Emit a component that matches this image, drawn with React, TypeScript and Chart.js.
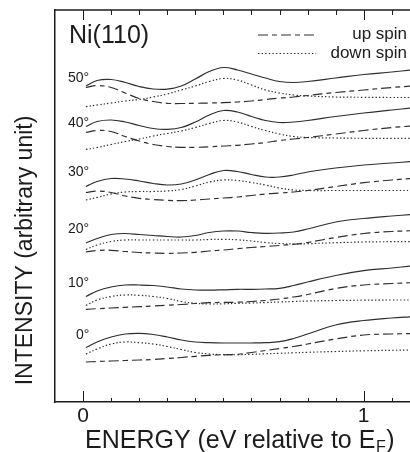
import React, { useEffect, useRef } from "react";
import { Chart, registerables } from "chart.js";

Chart.register(...registerables);

// Energy grid (eV relative to E_F)
const ENERGY = [0.01, 0.05, 0.1, 0.15, 0.2, 0.25, 0.3, 0.35, 0.4, 0.45, 0.5, 0.55, 0.6, 0.65, 0.7, 0.75, 0.8, 0.9, 1.0, 1.1, 1.17];

const ANGLES = ["50°", "40°", "30°", "20°", "10°", "0°"];

// Total intensity (solid), arbitrary units, offset per angle
const TOTAL_50 = [316, 321.5, 322.5, 319.5, 315.5, 313, 312.8, 316, 323, 330.5, 334.5, 332, 328, 324, 320.5, 319.5, 320.5, 324, 327.5, 330, 332];
const TOTAL_40 = [275.5, 280.5, 282, 280, 276.5, 273.5, 272.7, 274.5, 280, 287, 291.5, 290, 285.5, 281.5, 279.5, 280, 281.5, 285.5, 289, 292, 294];
const TOTAL_30 = [215.5, 220.5, 223.5, 223, 221, 218.5, 217, 218, 222, 227.5, 231.5, 230.5, 227.5, 225, 225, 227, 230, 234, 237, 239, 240.5];
const TOTAL_20 = [159, 163.5, 167.5, 168.5, 167.5, 166.5, 165.5, 165, 166.5, 169.5, 171, 171, 169.5, 168.7, 169, 170, 173, 180, 183.5, 186, 187.5];
const TOTAL_10 = [105.5, 111, 115, 117, 117, 116.5, 115, 113, 112, 111.8, 112.2, 112.7, 112.7, 113, 113.7, 116.5, 120, 126.5, 131.3, 134, 136];
const TOTAL_0 = [54.5, 60, 65, 68, 68.7, 67.5, 65, 62, 60, 59.3, 59, 59, 59, 59.3, 60.3, 63.5, 68, 77, 81.5, 84, 85.3];

// Up spin (dashed)
const UP_50 = [314.5, 316.5, 314.5, 309, 303.5, 300.5, 298.7, 298.5, 298.7, 299, 299.3, 300, 301, 302.5, 304, 305, 306.5, 309.5, 312, 314.5, 316];
const UP_40 = [269.5, 271.5, 270.5, 265.5, 261, 257.5, 255.5, 254.7, 254.7, 255.2, 256, 256.7, 258, 259.5, 261.5, 263, 264.5, 268, 271.5, 274.5, 276];
const UP_30 = [209.5, 211, 209.5, 206, 203.7, 202.5, 201.7, 201.3, 202, 203, 204, 205, 206.5, 208, 209, 210, 211.5, 215.5, 219.3, 222, 223.5];
const UP_20 = [150, 151.5, 151.7, 150.5, 149.5, 149, 148.7, 149, 149.7, 151, 152, 153.3, 154.5, 155.5, 156.5, 157.7, 159.5, 164.5, 168.5, 170.5, 171.3];
const UP_10 = [92.7, 93.3, 94, 94.7, 95.3, 96, 96.7, 97.5, 98.5, 99.3, 99.6, 99.8, 100.5, 101.5, 103, 105, 107.5, 113.5, 117, 118.5, 119.3];
const UP_0 = [40, 40.5, 41, 41.5, 42, 42.5, 43.5, 44.5, 45.7, 46.7, 47.2, 47.7, 49.5, 51.5, 53.5, 55.5, 58, 63, 67, 68, 68.5];

// Down spin (dotted)
const DOWN_50 = [295.3, 297, 299, 301, 302.5, 305, 308, 312, 316, 320.5, 323.5, 322, 317, 312, 309, 307, 306, 305, 304.7, 304.5, 304.5];
const DOWN_40 = [252.7, 254.5, 257.5, 260.5, 263, 266, 268.5, 271, 274.5, 278.5, 281.5, 280, 275.5, 271.5, 268, 265.5, 264.5, 264, 263.7, 263.7, 263.7];
const DOWN_30 = [202, 204.5, 208, 210, 210.5, 210.5, 211, 212.5, 216, 220, 222, 221.5, 219.5, 217, 214, 212, 211.5, 211.5, 211.5, 211.5, 211.5];
const DOWN_20 = [152.5, 157, 160.5, 162, 162, 162, 162, 162, 162, 162.5, 162.7, 162.2, 161, 159.5, 158.5, 158, 158.3, 159.3, 160, 160.3, 160.3];
const DOWN_10 = [96.5, 102, 105.5, 107, 106.7, 105.5, 103.5, 100.5, 98.7, 98, 98.2, 98.7, 99, 99.5, 100, 100.5, 101, 101.5, 101.8, 102, 102];
const DOWN_0 = [48, 53, 58, 60, 59.3, 58, 55.5, 52.5, 49.5, 48, 47.3, 47.3, 47.7, 48.2, 48.7, 49.2, 49.7, 50.5, 51.2, 51.7, 52];

// Angle label anchors in data space (energy, intensity)
const LABEL_E = [-0.054, -0.054, -0.054, -0.054, -0.054, -0.025];
const LABEL_I = [320.5, 275, 226, 169, 115, 63];

const X_TICK_LABELS = [0, 1];

const TOTALS = [TOTAL_50, TOTAL_40, TOTAL_30, TOTAL_20, TOTAL_10, TOTAL_0];
const UPS = [UP_50, UP_40, UP_30, UP_20, UP_10, UP_0];
const DOWNS = [DOWN_50, DOWN_40, DOWN_30, DOWN_20, DOWN_10, DOWN_0];

const FONT = '"Liberation Sans", Arial, Helvetica, sans-serif';
const INK = "#1c1c1c";
const LINE = "#2e2e2e";
const DASH = [10, 4, 5, 4];
const DOT = [1.4, 2.2];

const toPts = (ys: number[]) => ys.map((v, i) => ({ x: ENERGY[i], y: v }));

const decor = {
  id: "decor",
  afterDraw(chart: any) {
    const { ctx, chartArea: a, scales } = chart;
    const x = scales.x;
    const y = scales.y;
    ctx.save();
    ctx.strokeStyle = INK;
    ctx.fillStyle = INK;

    // top frame line
    ctx.lineWidth = 1.4;
    ctx.beginPath();
    ctx.moveTo(a.left, a.top);
    ctx.lineTo(a.right, a.top);
    ctx.stroke();

    // inward tick marks, bottom and top
    ctx.lineWidth = 1;
    for (let i = 0; i <= 11; i++) {
      const v = i / 10;
      const px = Math.round(x.getPixelForValue(v)) + 0.5;
      const major = i % 10 === 0;
      ctx.beginPath();
      ctx.moveTo(px, a.bottom);
      ctx.lineTo(px, a.bottom - (major ? 11 : 4));
      ctx.moveTo(px, a.top);
      ctx.lineTo(px, a.top + (major ? 10 : 5));
      ctx.stroke();
    }

    // sample label
    ctx.textAlign = "left";
    ctx.textBaseline = "alphabetic";
    ctx.font = `25px ${FONT}`;
    ctx.fillText("Ni(110)", 69, 43);

    // angle labels
    ctx.font = `14px ${FONT}`;
    ANGLES.forEach((t, i) => {
      ctx.fillText(t, x.getPixelForValue(LABEL_E[i]), y.getPixelForValue(LABEL_I[i]));
    });

    // legend
    ctx.font = `17px ${FONT}`;
    ctx.textAlign = "right";
    ctx.fillText("up spin", 407, 39);
    ctx.fillText("down spin", 407, 58);
    ctx.lineWidth = 1.2;
    ctx.strokeStyle = LINE;
    ctx.setLineDash(DASH);
    ctx.beginPath();
    ctx.moveTo(258, 35);
    ctx.lineTo(316, 35);
    ctx.stroke();
    ctx.setLineDash(DOT);
    ctx.beginPath();
    ctx.moveTo(258, 53.5);
    ctx.lineTo(316, 53.5);
    ctx.stroke();
    ctx.setLineDash([]);

    // x-axis title with subscript
    ctx.fillStyle = INK;
    ctx.textAlign = "left";
    const main = "ENERGY (eV relative to E";
    let cx = 85;
    const by = 448;
    ctx.font = `25px ${FONT}`;
    ctx.fillText(main, cx, by);
    cx += ctx.measureText(main).width;
    ctx.font = `16px ${FONT}`;
    ctx.fillText("F", cx + 0.5, by + 4);
    cx += ctx.measureText("F").width + 1;
    ctx.font = `25px ${FONT}`;
    ctx.fillText(")", cx, by);

    // y-axis title
    ctx.save();
    ctx.translate(31.5, 250.5);
    ctx.rotate(-Math.PI / 2);
    ctx.textAlign = "center";
    ctx.font = `23px ${FONT}`;
    ctx.fillText("INTENSITY (arbitrary unit)", 0, 0);
    ctx.restore();

    ctx.restore();
  },
};

export default function App() {
  const ref = useRef<HTMLCanvasElement | null>(null);

  useEffect(() => {
    if (!ref.current) return;
    const datasets: any[] = [];
    for (let i = 0; i < ANGLES.length; i++) {
      datasets.push({
        label: `total ${ANGLES[i]}`,
        data: toPts(TOTALS[i]),
        borderColor: LINE,
        borderWidth: 1.2,
        pointRadius: 0,
        tension: 0.4,
        fill: false,
      });
      datasets.push({
        label: `up spin ${ANGLES[i]}`,
        data: toPts(UPS[i]),
        borderColor: LINE,
        borderWidth: 1.2,
        borderDash: DASH,
        pointRadius: 0,
        tension: 0.4,
        fill: false,
      });
      datasets.push({
        label: `down spin ${ANGLES[i]}`,
        data: toPts(DOWNS[i]),
        borderColor: LINE,
        borderWidth: 1.2,
        borderDash: DOT,
        pointRadius: 0,
        tension: 0.4,
        fill: false,
      });
    }

    const chart = new Chart(ref.current, {
      type: "line",
      data: { datasets },
      options: {
        animation: false,
        responsive: false,
        devicePixelRatio: 1,
        layout: { padding: { top: 10, right: 0, left: 0, bottom: 0 } },
        plugins: { legend: { display: false }, tooltip: { enabled: false } },
        scales: {
          x: {
            type: "linear",
            min: -0.1,
            max: 1.165,
            grid: { display: false, drawTicks: false },
            border: { display: true, color: INK, width: 1.5 },
            afterBuildTicks: (s: any) => {
              s.ticks = X_TICK_LABELS.map((v) => ({ value: v }));
            },
            ticks: {
              font: { family: FONT, size: 21 },
              color: INK,
              padding: 2,
              maxRotation: 0,
              autoSkip: false,
              callback: (v: any) => String(v),
            },
            afterFit: (s: any) => {
              s.height = 50;
            },
          },
          y: {
            type: "linear",
            min: 0,
            max: 392,
            grid: { display: false, drawTicks: false },
            ticks: { display: false },
            border: { display: true, color: INK, width: 1.5 },
            afterFit: (s: any) => {
              s.width = 55;
            },
          },
        },
      },
      plugins: [decor],
    });
    return () => chart.destroy();
  }, []);

  return (
    <div style={{ position: "absolute", left: 0, top: 0, width: 410, height: 452, background: "#fff" }}>
      <canvas ref={ref} width={410} height={452} style={{ display: "block" }} />
    </div>
  );
}
